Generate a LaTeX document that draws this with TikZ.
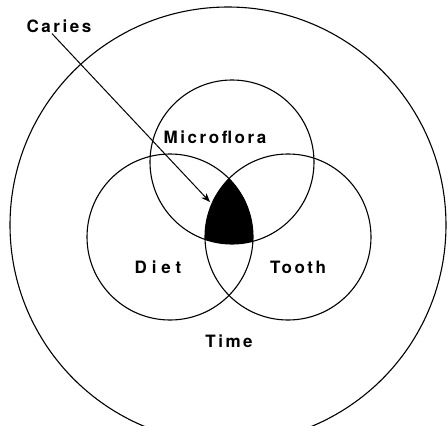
\documentclass[tikz,border=0pt]{standalone}
\usepackage{fontspec}
\newfontfamily\labfont[LetterSpace=15]{TeX Gyre Heros}
\usetikzlibrary{arrows.meta,calc}
\begin{document}
\begin{tikzpicture}[x=1pt,y=-1pt,
  ring/.style={draw=black,line width=1.1pt},
  lab/.style={font=\labfont\bfseries\fontsize{17}{19}\selectfont,inner sep=1pt},
  pointer/.style={line width=1pt,-{Stealth[length=9pt,width=7pt]}}]
\useasboundingbox (0,0) rectangle (448,426);
\begin{scope}
\clip (0,0) rectangle (448,426);
\draw[ring] (228,225) circle[radius=218pt];
\end{scope}
\begin{scope}
\clip (170,237) circle[radius=83pt];
\clip (288,237) circle[radius=83pt];
\fill[black] (232,162) circle[radius=82pt];
\end{scope}
\draw[ring] (232,162) circle[radius=82pt];
\draw[ring] (170,237) circle[radius=83pt];
\draw[ring] (288,237) circle[radius=83pt];
\node[lab] (caries) at (59,26) {Caries};
\node[lab] (micro) at (215,137) {Microflora};
\node[lab] (diet) at (158,267) {\addfontfeature{LetterSpace=29}Diet};
\node[lab] (tooth) at (298,267) {Tooth};
\node[lab] (time) at (229,341) {Time};
\coordinate (tip) at (210,202);
\draw[pointer] ([xshift=-7pt]caries.south) -- (tip);
\end{tikzpicture}
\end{document}
